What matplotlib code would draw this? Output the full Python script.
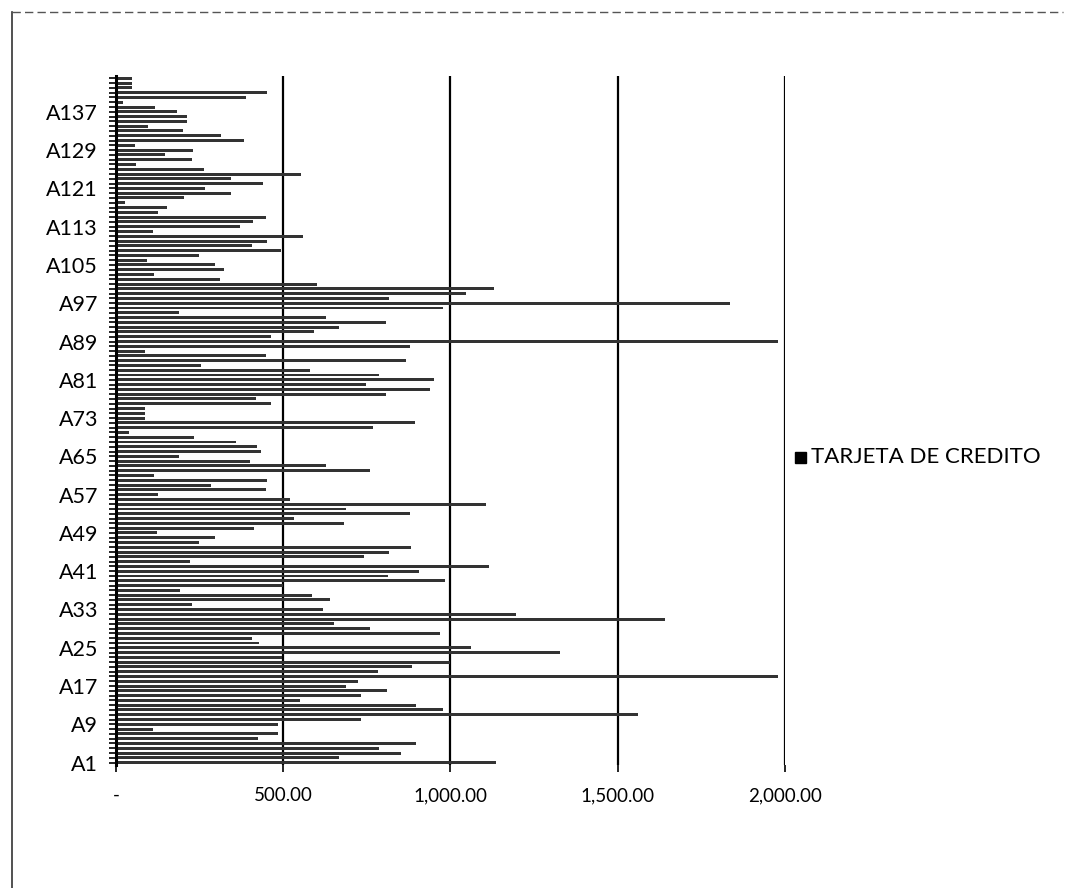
import matplotlib
matplotlib.use("Agg")
import matplotlib.pyplot as plt
from matplotlib import lines

plt.rcParams['font.family'] = ['Lato', 'DejaVu Sans']

series_name = "TARJETA DE CREDITO"

# monto por cliente, A1 .. A144
values = [
    1137, 667, 853, 787, 896, 424, 483, 111, 484, 733,
    1560, 977, 896, 549, 733, 811, 689, 724, 1980, 783,
    884, 1000, 497, 1327, 1060, 427, 407, 969, 760, 651,
    1640, 1197, 620, 227, 640, 587, 191, 500, 983, 813,
    907, 1116, 220, 740, 817, 883, 247, 297, 123, 411,
    683, 531, 880, 687, 1107, 520, 124, 449, 284, 451,
    113, 760, 627, 400, 187, 433, 420, 360, 233, 40,
    769, 893, 87, 87, 87, 464, 417, 807, 940, 747,
    951, 787, 580, 253, 867, 447, 87, 880, 1980, 464,
    593, 667, 807, 629, 187, 977, 1836, 817, 1047, 1131,
    600, 311, 113, 324, 297, 93, 249, 493, 407, 451,
    560, 111, 371, 409, 447, 124, 151, 27, 204, 344,
    267, 440, 344, 553, 263, 60, 227, 147, 229, 57,
    383, 313, 200, 96, 213, 213, 183, 117, 20, 387,
    450, 47, 47, 47,
]
categories = ["A" + str(i + 1) for i in range(len(values))]

x_ticks = [0, 500, 1000, 1500, 2000]
x_labels = ["-", "500.00", "1,000.00", "1,500.00", "2,000.00"]

fig = plt.figure(figsize=(10.65, 8.88), dpi=100)
ax = fig.add_axes([0.109, 0.1385, 0.628, 0.776])

pos = list(range(1, len(values) + 1))
ax.barh(pos, values, height=0.62, color='#333333', zorder=3)

ax.set_xlim(0, 2000)
ax.set_ylim(0.5, len(values) + 0.5)

ax.set_xticks(x_ticks)
ax.set_xticklabels(x_labels, fontsize=13.5)
ax.set_yticks(pos[::8])
ax.set_yticklabels(categories[::8], fontsize=15.5)
ax.set_yticks(pos, minor=True)

ax.tick_params(axis='y', which='both', length=5, width=1.2, color='black', pad=8)
ax.tick_params(axis='x', length=5, width=1.2, color='black', pad=11)

ax.xaxis.grid(True, color='black', linewidth=1.6, zorder=0)
ax.set_axisbelow(True)

for s in ['top', 'right', 'bottom']:
    ax.spines[s].set_visible(False)
ax.spines['left'].set_linewidth(2.2)
ax.spines['left'].set_zorder(5)

# leyenda
fig.patches.append(plt.Rectangle((0.7465, 0.4785), 0.0105, 0.0125,
                                 transform=fig.transFigure, color='black'))
fig.text(0.7615, 0.485, series_name, fontsize=16, va='center', ha='left')

# borde del area del grafico (escaneado)
fig.lines.append(lines.Line2D([0.0113, 0.0113], [0.0, 0.986],
                              transform=fig.transFigure, color='#333333', linewidth=1.2))
fig.lines.append(lines.Line2D([0.0113, 0.998], [0.986, 0.986],
                              transform=fig.transFigure, color='#555555', linewidth=1.0,
                              linestyle=(0, (6, 3))))

fig.savefig("out.png", dpi=100)
